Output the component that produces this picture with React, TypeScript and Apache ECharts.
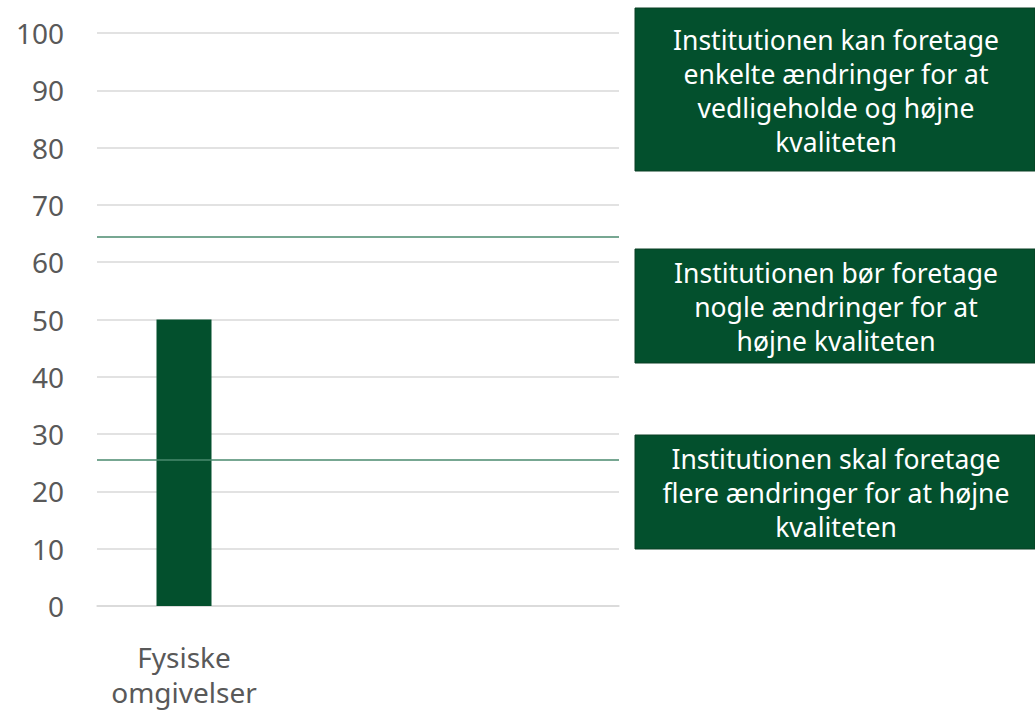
import React, { useEffect, useRef } from "react";
import * as echarts from "echarts";

const categories = ["Fysiske\nomgivelser", "", ""];
const values: (number | null)[] = [50, null, null];
const thresholds = [64.5, 25.5];
const yMin = 0;
const yMax = 100;
const yInterval = 10;
const boxTexts = [
  "Institutionen kan foretage\nenkelte ændringer for at\nvedligeholde og højne\nkvaliteten",
  "Institutionen bør foretage\nnogle ændringer for at\nhøjne kvaliteten",
  "Institutionen skal foretage\nflere ændringer for at højne\nkvaliteten",
];
const boxTops = [8, 249, 435];
const boxHeights = [163, 114, 114];

const GREEN = "#03502d";
const FONT = "'Noto Sans', 'Open Sans', sans-serif";

export default function App() {
  const ref = useRef<HTMLDivElement>(null);
  useEffect(() => {
    document.body.style.margin = "0";
    const chart = echarts.init(ref.current!, null, { renderer: "svg" });
    const boxes = boxTexts.map((t, i) => ({
      type: "group",
      children: [
        {
          type: "rect",
          shape: { x: 635, y: boxTops[i], width: 400, height: boxHeights[i] },
          style: { fill: GREEN, stroke: "#0b3f25", lineWidth: 1 },
        },
        {
          type: "text",
          x: 836,
          y: boxTops[i] + boxHeights[i] / 2 + 1,
          style: {
            text: t,
            fill: "#ffffff",
            fontSize: 26.5,
            fontFamily: FONT,
            align: "center",
            verticalAlign: "middle",
            lineHeight: 34,
          },
        },
      ],
    }));
    chart.setOption({
      animation: false,
      grid: { left: 97, right: 416, top: 33, bottom: 107, containLabel: false },
      xAxis: {
        type: "category",
        data: categories,
        axisLine: { show: true, lineStyle: { color: "#d9d9d9", width: 1.5 } },
        axisTick: { show: false },
        axisLabel: {
          color: "#595959",
          fontSize: 28,
          fontFamily: FONT,
          lineHeight: 35,
          margin: 33,
          interval: 0,
        },
      },
      yAxis: {
        type: "value",
        min: yMin,
        max: yMax,
        interval: yInterval,
        axisLine: { show: false },
        axisTick: { show: false },
        splitLine: { lineStyle: { color: "#d9d9d9", width: 1.5 } },
        axisLabel: {
          color: "#595959",
          fontSize: 28,
          fontFamily: FONT,
          margin: 33,
        },
      },
      series: [
        {
          type: "bar",
          data: values,
          barWidth: 55,
          itemStyle: { color: GREEN },
          markLine: {
            silent: true,
            symbol: "none",
            label: { show: false },
            lineStyle: { color: "#4a8a6e", width: 1.5, type: "solid" },
            data: thresholds.map((v) => ({ yAxis: v })),
          },
        },
      ],
      graphic: boxes,
    });
    return () => chart.dispose();
  }, []);
  return <div ref={ref} style={{ width: 1035, height: 713 }} />;
}
